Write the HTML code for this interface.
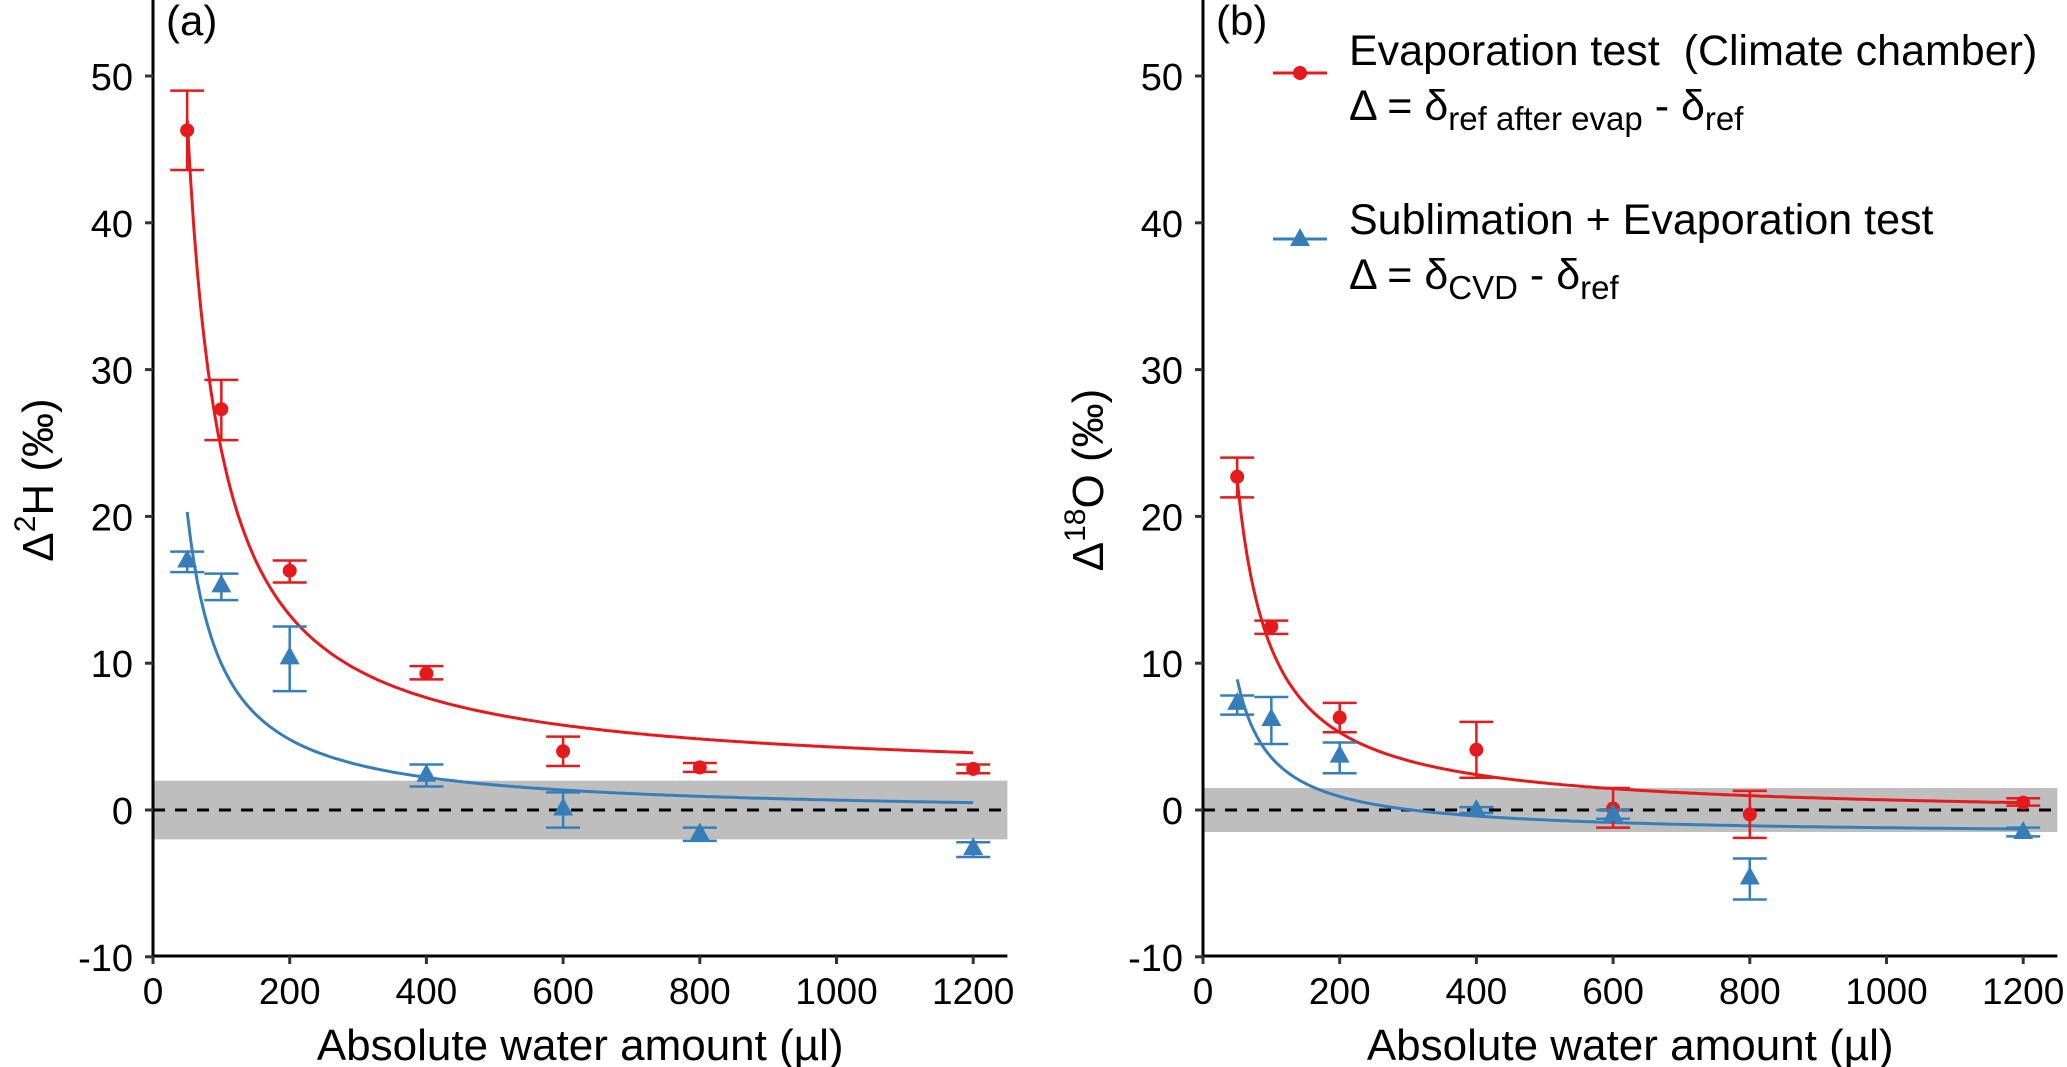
<!DOCTYPE html>
<html><head><meta charset="utf-8"><style>
html,body{margin:0;padding:0;background:#fff;}
svg{display:block;font-family:"Liberation Sans",Arial,sans-serif;}
</style></head><body>
<svg id="chart" width="2067" height="1067" viewBox="0 0 2067 1067" xmlns="http://www.w3.org/2000/svg">
<g id="legend">
  <g>
    <line x1="1273" y1="73" x2="1327" y2="73" stroke="#E41A1C" stroke-width="3"/>
    <circle cx="1300" cy="73" r="7" fill="#E41A1C"/>
    <text x="1349" y="65" font-size="43" xml:space="preserve">Evaporation test  (Climate chamber)</text>
    <text x="1349" y="120" font-size="43">Δ = δ<tspan font-size="33" dy="10">ref after evap</tspan><tspan dy="-10"> - δ</tspan><tspan font-size="33" dy="10">ref</tspan></text>
  </g>
  <g>
    <line x1="1273" y1="239" x2="1327" y2="239" stroke="#377EB8" stroke-width="3"/>
    <polygon points="1300,228 1310,246 1290,246" fill="#377EB8"/>
    <text x="1349" y="234" font-size="43">Sublimation + Evaporation test</text>
    <text x="1349" y="289" font-size="43">Δ = δ<tspan font-size="33" dy="10">CVD</tspan><tspan dy="-10"> - δ</tspan><tspan font-size="33" dy="10">ref</tspan></text>
  </g>
</g>
</svg>
<script>
// Shared x categories (µl)
const xValues = [50, 100, 200, 400, 600, 800, 1200];
// Panel a (Δ2H)
const aRed = [46.3, 27.3, 16.3, 9.3, 4.0, 2.9, 2.8];
const aRedLo = [43.6, 25.2, 15.5, 8.9, 3.0, 2.6, 2.5];
const aRedHi = [49.0, 29.3, 17.0, 9.8, 5.0, 3.2, 3.1];
const aBlue = [17.0, 15.3, 10.4, 2.4, 0.1, -1.6, -2.6];
const aBlueLo = [16.2, 14.3, 8.1, 1.6, -1.2, -2.1, -3.2];
const aBlueHi = [17.6, 16.1, 12.5, 3.1, 1.2, -1.2, -2.2];
const aRedFit = [2249, 2.03];
const aBlueFit = [1033, -0.36];
// Panel b (Δ18O)
const bRed = [22.7, 12.5, 6.3, 4.1, 0.1, -0.3, 0.5];
const bRedLo = [21.3, 12.0, 5.3, 2.2, -1.2, -1.9, 0.3];
const bRedHi = [24.0, 12.9, 7.3, 6.0, 1.5, 1.3, 0.8];
const bBlue = [7.3, 6.2, 3.7, 0.0, -0.3, -4.6, -1.5];
const bBlueLo = [6.5, 4.5, 2.5, -0.2, -0.6, -6.1, -1.8];
const bBlueHi = [7.8, 7.7, 4.6, 0.2, 0.0, -3.3, -1.2];
const bRedFit = [1148, -0.46];
const bBlueFit = [532, -1.74];
const xTicks = [0, 200, 400, 600, 800, 1000, 1200];
const yTicks = [-10, 0, 10, 20, 30, 40, 50];
const bands = [2, 1.5];

const NS = "http://www.w3.org/2000/svg";
const svg = document.getElementById('chart');
function mk(tag, attrs, parent) {
  const e = document.createElementNS(NS, tag);
  for (const k in attrs) e.setAttribute(k, attrs[k]);
  (parent || svg).appendChild(e);
  return e;
}
const RED = "#E41A1C", BLUE = "#377EB8";

function panel(ox, label, yTitleMain, yTitleSup, red, redLo, redHi, blue, blueLo, blueHi, redFit, blueFit, band, name) {
  const g = mk('g', {});
  
  
  const X = v => ox + v * 0.6835;
  const Y = v => 810 - v * 14.68;
  const xEnd = X(1250);
  const bd = mk('rect', {x: ox, y: Y(band), width: xEnd - ox, height: Y(-band) - Y(band), fill: '#bebebe'}, g);
  
  
  const zl = mk('line', {x1: ox, x2: xEnd, y1: Y(0), y2: Y(0), stroke: '#000', 'stroke-width': 3, 'stroke-dasharray': '12 10'}, g);
  
  
  [[redFit, RED, 'fit-evaporation'], [blueFit, BLUE, 'fit-sublimation']].forEach(([f, c, n]) => {
    let d = '';
    for (let v = 50; v <= 1200; v += 5) d += (v === 50 ? 'M' : 'L') + X(v).toFixed(1) + ',' + Y(f[0] / v + f[1]).toFixed(1);
    const p = mk('path', {d: d, fill: 'none', stroke: c, 'stroke-width': 3}, g);
    
    
  });
  function series(vals, lo, hi, c, tri, n) {
    vals.forEach((v, i) => {
      const sg = mk('g', {}, g);
      
      
      const x = X(xValues[i]);
      mk('line', {x1: x, x2: x, y1: Y(lo[i]), y2: Y(hi[i]), stroke: c, 'stroke-width': 2.5}, sg);
      mk('line', {x1: x - 17, x2: x + 17, y1: Y(lo[i]), y2: Y(lo[i]), stroke: c, 'stroke-width': 2.5}, sg);
      mk('line', {x1: x - 17, x2: x + 17, y1: Y(hi[i]), y2: Y(hi[i]), stroke: c, 'stroke-width': 2.5}, sg);
      const y = Y(v);
      if (tri) mk('polygon', {points: `${x},${y - 11} ${x + 10},${y + 7} ${x - 10},${y + 7}`, fill: c}, sg);
      else mk('circle', {cx: x, cy: y, r: 7, fill: c}, sg);
    });
  }
  series(red, redLo, redHi, RED, false, 'evaporation');
  series(blue, blueLo, blueHi, BLUE, true, 'sublimation');
  const ya = mk('line', {x1: ox, x2: ox, y1: 0, y2: 957, stroke: '#000', 'stroke-width': 3}, g);
  
  
  const xa = mk('line', {x1: ox - 1.5, x2: xEnd, y1: 956, y2: 956, stroke: '#000', 'stroke-width': 3}, g);
  
  
  yTicks.forEach(t => {
    mk('line', {x1: ox - 8, x2: ox, y1: Y(t), y2: Y(t), stroke: '#333', 'stroke-width': 3}, g);
    const tx = mk('text', {x: ox - 20, y: Y(t) + 14, 'font-size': 38, 'text-anchor': 'end'}, g);
    tx.textContent = t;
    
    
  });
  xTicks.forEach(t => {
    mk('line', {x1: X(t), x2: X(t), y1: 956, y2: 964, stroke: '#333', 'stroke-width': 3}, g);
    const tx = mk('text', {x: X(t), y: 1004, 'font-size': 37, 'text-anchor': 'middle'}, g);
    tx.textContent = t;
    
    
  });
  const xt = mk('text', {x: (ox + xEnd) / 2, y: 1060, 'font-size': 44, 'text-anchor': 'middle'}, g);
  xt.textContent = 'Absolute water amount (µl)';
  
  
  const yt = mk('text', {x: 0, y: 0, 'font-size': 44, 'text-anchor': 'middle', transform: `translate(${ox - 100},480) rotate(-90)`}, g);
  
  
  yt.appendChild(document.createTextNode('Δ'));
  const sup = mk('tspan', {'font-size': 30, dy: -18}, yt);
  sup.textContent = yTitleSup;
  const rest = mk('tspan', {dy: 18}, yt);
  rest.textContent = yTitleMain;
  const pl = mk('text', {x: ox + 13, y: 35, 'font-size': 42}, g);
  pl.textContent = label;
  
  
}
panel(153, '(a)', 'H (‰)', '2', aRed, aRedLo, aRedHi, aBlue, aBlueLo, aBlueHi, aRedFit, aBlueFit, bands[0], 'a');
panel(1203, '(b)', 'O (‰)', '18', bRed, bRedLo, bRedHi, bBlue, bBlueLo, bBlueHi, bRedFit, bBlueFit, bands[1], 'b');
svg.appendChild(document.getElementById('legend'));
</script>
</body></html>
